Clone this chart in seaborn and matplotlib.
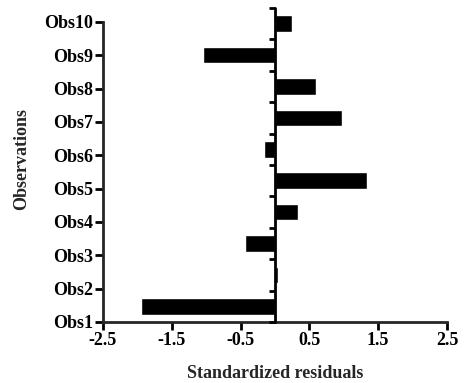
import numpy as np
import pandas as pd
import matplotlib
matplotlib.use("Agg")
import matplotlib.pyplot as plt
import seaborn as sns

observations = ["Obs1", "Obs2", "Obs3", "Obs4", "Obs5", "Obs6", "Obs7", "Obs8", "Obs9", "Obs10"]
residuals = [-1.95, 0.05, -0.44, 0.34, 1.34, -0.16, 0.97, 0.60, -1.05, 0.25]
x_ticks = [-2.5, -1.5, -0.5, 0.5, 1.5, 2.5]
x_tick_labels = ["-2.5", "-1.5", "-0.5", "0.5", "1.5", "2.5"]

sns.set_style("ticks")
plt.rcParams["font.family"] = ["Liberation Serif", "DejaVu Serif"]

df = pd.DataFrame({"obs": observations, "resid": residuals})

fig = plt.figure(figsize=(4.66, 3.83), dpi=100)
top_px, bot_px = 8, 322
ax_w_px = 344
ax = fig.add_axes([103 / 466, 1 - bot_px / 383, ax_w_px / 466, (bot_px - top_px) / 383])

order = observations[::-1]
sns.barplot(data=df, x="resid", y="obs", order=order, orient="h",
            color="black", width=0.53, saturation=1, ax=ax)

n = len(observations)
ax.set_xlim(-2.5, 2.5)
ax.set_ylim(n - 0.5, -0.5)

# left axis labels spread over a slightly shorter span than the bars
span = (322 - 22) / ((bot_px - top_px) / n)
label_pos = [(n - 0.5) - k * span / (n - 1) for k in range(n)]
ax.set_yticks(label_pos)
ax.set_yticklabels(observations)
ax.spines["left"].set_bounds(n - 0.5, label_pos[-1])

ax.set_xticks(x_ticks)
ax.set_xticklabels(x_tick_labels)

for side in ["top", "right"]:
    ax.spines[side].set_visible(False)
for side in ["left", "bottom"]:
    ax.spines[side].set_linewidth(2)
ax.tick_params(axis="both", width=2, length=6, labelsize=13, pad=1, colors="black")
for lab in ax.get_xticklabels() + ax.get_yticklabels():
    lab.set_fontweight("bold")

# zero line with category-boundary ticks pointing left
ax.axvline(0, color="black", lw=2, clip_on=False, zorder=3)
tick_len = 6 / ax_w_px * 5.0
ax.hlines(np.arange(-0.5, n, 1.0), -tick_len, 0, color="black", lw=2,
          clip_on=False, zorder=3)

ax.set_xlabel("Standardized residuals", fontsize=13, fontweight="bold", labelpad=12)
ax.set_ylabel("Observations", fontsize=13, fontweight="bold")
ax.yaxis.set_label_coords((30 - 103) / ax_w_px, (322 - 159) / (bot_px - top_px))

fig.savefig("out.png", dpi=100)
